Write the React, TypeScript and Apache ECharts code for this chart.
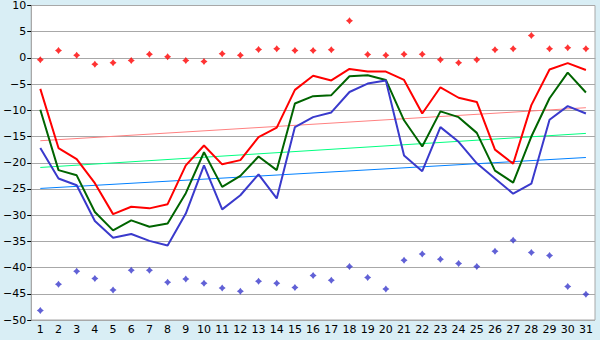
import React, { useEffect, useRef } from "react";
import * as echarts from "echarts";

const days = Array.from({ length: 31 }, (_, i) => String(i + 1));

const redLine = [-5.9, -17.2, -19.3, -23.9, -29.8, -28.4, -28.7, -27.9, -20.5, -16.7, -20.3, -19.5, -15.1, -13.3, -6.1, -3.4, -4.3, -2.1, -2.6, -2.6, -4.2, -10.6, -5.6, -7.6, -8.4, -17.5, -20.2, -9.0, -2.2, -1.0, -2.3];
const greenLine = [-9.9, -21.4, -22.4, -29.4, -32.9, -31.0, -32.2, -31.6, -25.8, -18.0, -24.6, -22.5, -18.8, -21.4, -8.7, -7.3, -7.1, -3.5, -3.3, -4.2, -11.9, -16.9, -10.2, -11.3, -14.3, -21.5, -23.8, -15.0, -7.7, -2.8, -6.6];
const blueLine = [-17.2, -23.0, -24.3, -31.1, -34.3, -33.6, -34.9, -35.8, -29.7, -20.5, -28.9, -26.2, -22.2, -26.8, -13.2, -11.3, -10.4, -6.5, -4.9, -4.3, -18.6, -21.6, -13.2, -16.0, -20.1, -23.0, -25.9, -24.0, -11.8, -9.2, -10.6];
const redPoints = [-0.35, 1.4, 0.5, -1.2, -0.9, -0.5, 0.7, 0.2, -0.5, -0.7, 0.8, 0.5, 1.6, 1.75, 1.4, 1.4, 1.55, 7.1, 0.67, 0.5, 0.7, 0.7, -0.35, -0.9, -0.35, 1.55, 1.75, 4.3, 1.75, 1.93, 1.75];
const bluePoints = [-48.2, -43.2, -40.7, -42.1, -44.3, -40.5, -40.5, -42.8, -42.2, -43.0, -43.9, -44.5, -42.6, -43.0, -43.8, -41.5, -42.4, -39.8, -41.9, -44.1, -38.6, -37.4, -38.4, -39.2, -39.8, -36.9, -34.8, -37.1, -37.7, -43.6, -45.1];
const redTrend = [-15.8, -9.5];
const greenTrend = [-20.9, -14.4];
const blueTrend = [-24.9, -19.0];

const marker = "path://M3.5,0L5,2L7,3.5L5,5L3.5,7L2,5L0,3.5L2,2Z";

export default function App() {
  const ref = useRef<HTMLDivElement>(null);
  useEffect(() => {
    if (!ref.current) return;
    const chart = echarts.init(ref.current, null, { renderer: "svg" });
    const trend = (vals: number[], color: string) => ({
      type: "line",
      data: [[0, vals[0]], [days.length - 1, vals[1]]],
      showSymbol: false,
      symbol: "none",
      lineStyle: { color, width: 1 },
      z: 1,
    });
    const line = (vals: number[], color: string) => ({
      type: "line",
      data: vals,
      symbol: "none",
      lineStyle: { color, width: 2 },
      z: 3,
    });
    const pts = (vals: number[], color: string) => ({
      type: "scatter",
      data: vals,
      symbol: marker,
      symbolSize: 7,
      itemStyle: { color },
      z: 4,
    });
    chart.setOption({
      animation: false,
      backgroundColor: "#d9eef5",
      textStyle: { fontFamily: "DejaVu Sans" },
      grid: {
        left: 26,
        top: 5,
        right: 5,
        bottom: 20,
        show: true,
        backgroundColor: "#ffffff",
        borderColor: "#a8a8a8",
        borderWidth: 1,
      },
      xAxis: {
        type: "category",
        data: days,
        boundaryGap: true,
        axisLine: { lineStyle: { color: "#a8a8a8" } },
        axisTick: { alignWithLabel: true, length: 4, lineStyle: { color: "#000" } },
        axisLabel: { color: "#000", fontSize: 11, fontFamily: "DejaVu Sans", margin: 4, interval: 0 },
        splitLine: { show: false },
      },
      yAxis: {
        type: "value",
        min: -50,
        max: 10,
        interval: 5,
        axisLine: { show: true, lineStyle: { color: "#a8a8a8" } },
        axisTick: { show: true, length: 4, lineStyle: { color: "#000" } },
        axisLabel: {
          color: "#000",
          fontSize: 11,
          fontFamily: "DejaVu Sans",
          margin: 5,
          formatter: (v: number) => String(v).replace("-", "\u2212"),
        },
        splitLine: { lineStyle: { color: "#a8a8a8", width: 1 } },
      },
      series: [
        trend(redTrend, "#ff8080"),
        trend(greenTrend, "#00ff80"),
        trend(blueTrend, "#0080ff"),
        line(redLine, "#ff0000"),
        line(greenLine, "#006400"),
        line(blueLine, "#3a3acc"),
        pts(redPoints, "#ff0000"),
        pts(bluePoints, "#3a3acc"),
      ],
    });
    return () => chart.dispose();
  }, []);
  return <div ref={ref} style={{ width: 600, height: 340, position: "absolute", left: 0, top: 0 }} />;
}
